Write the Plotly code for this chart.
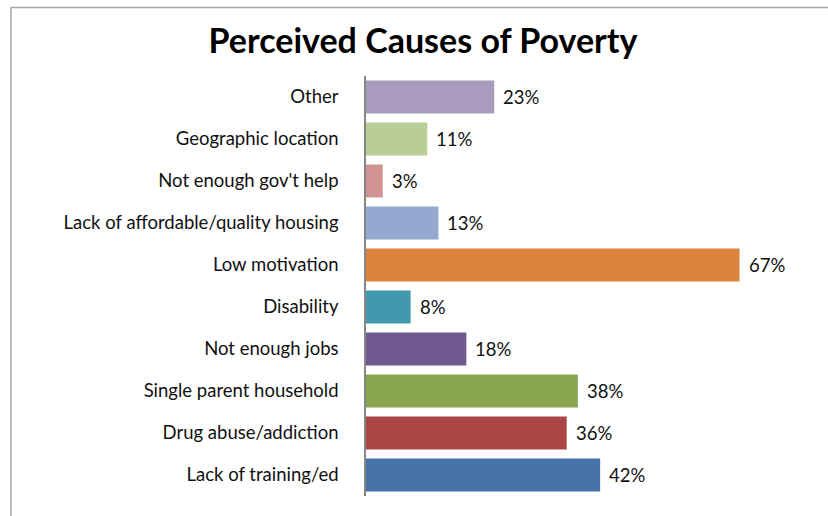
import plotly.graph_objects as go

# Survey results, listed bottom-to-top as drawn on the category axis
causes = [
    "Lack of training/ed",
    "Drug abuse/addiction",
    "Single parent household",
    "Not enough jobs",
    "Disability",
    "Low motivation",
    "Lack of affordable/quality housing",
    "Not enough gov't help",
    "Geographic location",
    "Other",
]
percent = [42, 36, 38, 18, 8, 67, 13, 3, 11, 23]
bar_colors = [
    "#4572A7", "#AA4643", "#89A54E", "#71588F", "#4198AF",
    "#DB843D", "#93A9CF", "#D19392", "#B9CD96", "#A99BBD",
]

W, H = 828, 516
left, right, top, bottom = 366, 812, 75.5, 496

fig = go.Figure(
    go.Bar(
        x=percent,
        y=causes,
        orientation="h",
        marker=dict(color=bar_colors, line=dict(width=0)),
        hoverinfo="skip",
    )
)

# Value labels to the right of each bar
for c, v in zip(causes, percent):
    fig.add_annotation(
        x=v, y=c, text=f"{v}%", showarrow=False,
        xanchor="left", yanchor="middle", xshift=7,
        font=dict(family="Lato", size=18.5, color="#111111"),
    )

# Outer chart frame (runs past the right and bottom edges)
def px_x(p):
    return (p - left) / (right - left)

def px_y(p):
    return (bottom - p) / (bottom - top)

fig.add_shape(
    type="rect", xref="paper", yref="paper",
    x0=px_x(11), x1=px_x(W + 20), y0=px_y(H + 20), y1=px_y(7),
    line=dict(color="#A6A6A6", width=1.5), fillcolor="rgba(0,0,0,0)",
    layer="below",
)

fig.update_layout(
    width=W, height=H, autosize=False,
    margin=dict(l=left, r=W - right, t=top, b=H - bottom, pad=0),
    paper_bgcolor="white", plot_bgcolor="white",
    bargap=0.215,
    showlegend=False,
    title=dict(
        text="<b>Perceived Causes of Poverty</b>",
        x=423 / W, xanchor="center", y=1 - 41 / H, yanchor="middle",
        font=dict(family="Lato", size=34, color="#000000"),
    ),
    xaxis=dict(
        range=[0, 80], visible=False, showgrid=False, zeroline=False, fixedrange=True,
    ),
    yaxis=dict(
        showline=True, linecolor="#868686", linewidth=1.5,
        ticks="", showgrid=False, zeroline=False,
        ticklabelstandoff=22,
        tickfont=dict(family="Lato", size=18.5, color="#111111"),
        fixedrange=True,
    ),
)

fig.write_html("out.html")
